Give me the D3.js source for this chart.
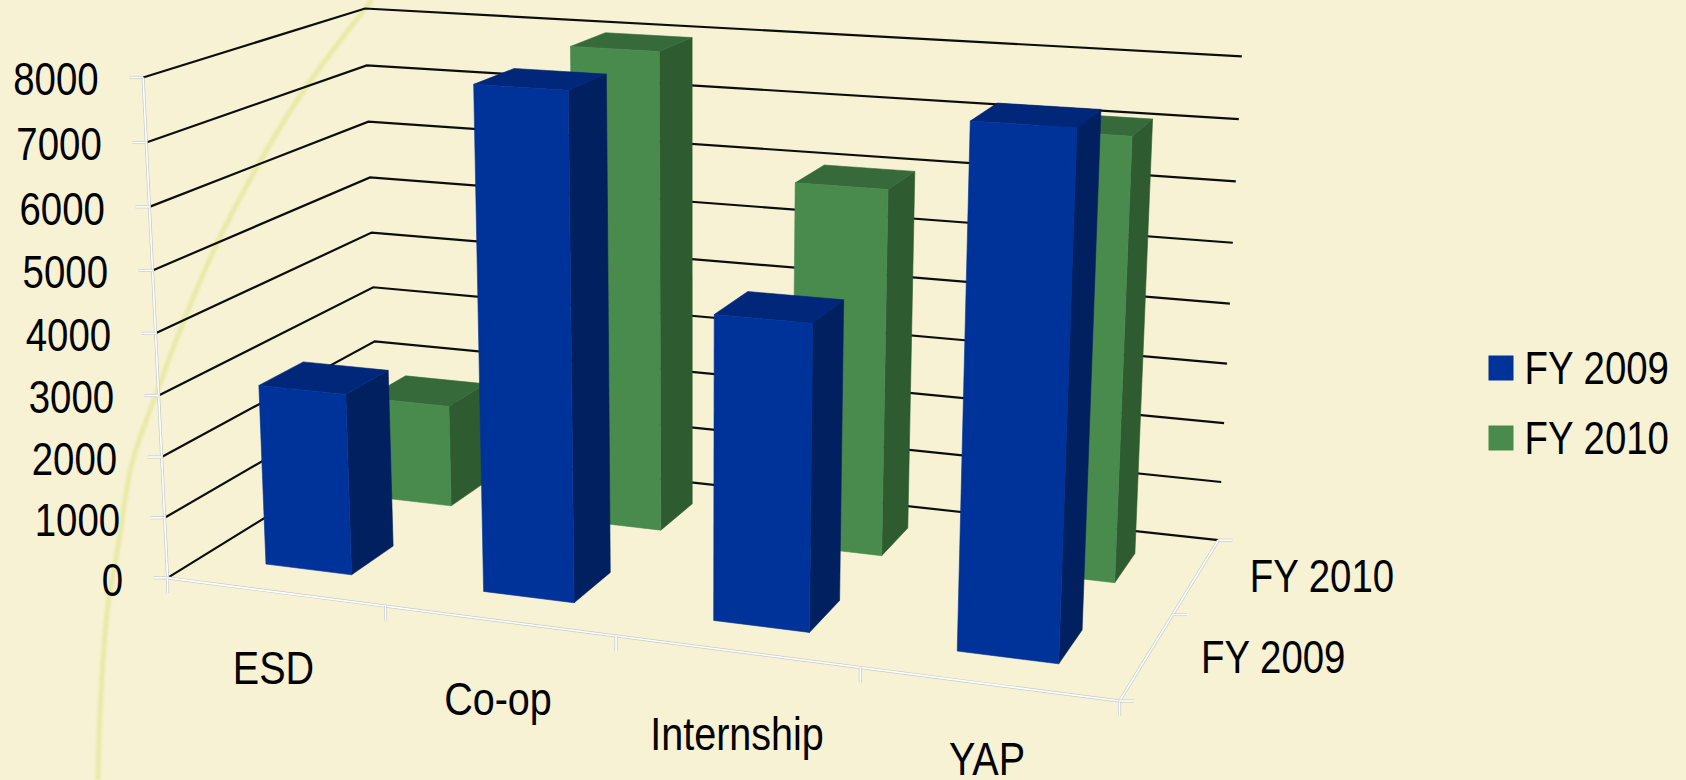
<!DOCTYPE html>
<html><head><meta charset="utf-8">
<style>html,body{margin:0;padding:0;background:#F7F2D3;overflow:hidden}svg{display:block}text{font-family:"Liberation Sans",Arial,sans-serif;fill:#000}</style>
<script src="https://cdn.jsdelivr.net/npm/d3@7"></script>
</head><body><svg id="c" width="1686" height="780"></svg>
<script>
const categories=["ESD","Co-op","Internship","YAP"];
const seriesNames=["FY 2009","FY 2010"];
const fy2009=[2975,8000,4790,7925];
const fy2010=[1760,8000,6035,7127];
const valueTicks=[0,1000,2000,3000,4000,5000,6000,7000,8000];

const colors={
 "FY 2009":{front:"#003399",side:"#002060",top:"#00277A"},
 "FY 2010":{front:"#488B4D",side:"#2E5B30",top:"#376A3A"}
};
// camera calibration: floor fraction u, depth fraction v, value -> page position
const calibration=[[0,0,0,167,578.7],[0,0,1000,165.4,517],[0,0,2000,161.8,457],[0,0,3000,158.2,395.3],[0,0,4000,156,333.5],[0,0,5000,152.9,270],[0,0,6000,149.3,206.7],[0,0,7000,146.4,142.7],[0,0,8000,143,77.3],
[0,1,8000,365,8.3],[0,1,7000,366.4,65.7],[0,1,6000,367.9,121.7],[0,1,5000,370,177.7],[0,1,4000,372,232.3],[0,1,3000,373.2,287],[0,1,2000,375,341.7],
[1,1,8000,1242,56.7],[1,1,7000,1238.8,119],[1,1,6000,1235.9,181.7],[1,1,5000,1233,243],[1,1,4000,1229.7,303.7],[1,1,3000,1226.9,363.3],[1,1,2000,1224,422.7],[1,1,1000,1221.8,481.7],[1,1,0,1217.5,540],
[1,0,0,1119,701],[.25,0,0,385.7,606.7],[.5,0,0,615.4,636.7],[.75,0,0,860,666.7],[1,.5,0,1174,615]];
const wallArc=[[372,0],[304,90],[257,167],[214,250],[179,333],[154,400],[132,463],[118,547],[107,613],[100,713],[98,780]];
const catLabelLayout=[[273.5,684.3],[498,715],[737,750],[987,775]];
const depthLabelLayout=[[1201,673.3],[1249.7,592.3]];

const xBand=d3.scaleBand().domain(categories).range([0,1]).paddingInner(0.6).paddingOuter(0.3);
const xEdge=d3.scaleBand().domain(categories).range([0,1]);
const zBand=d3.scaleBand().domain(seriesNames).range([0,1]).paddingInner(0.6).paddingOuter(0.3);
const zEdge=d3.scaleBand().domain(seriesNames).range([0,1]);
const yScale=d3.scaleLinear().domain([0,8000]).range([0,1]);

function fit(A){const n=11,M=Array.from({length:n},()=>Array(n+1).fill(0));
 const add=(r,b)=>{for(let i=0;i<n;i++){for(let j=0;j<n;j++)M[i][j]+=r[i]*r[j];M[i][n]+=r[i]*b}};
 for(const [u,v,val,x0,y0] of A){const w=yScale(val),x=x0/1000,y=y0/1000;
  add([u,v,w,1,0,0,0,0,-x*u,-x*v,-x*w],x);add([0,0,0,0,u,v,w,1,-y*u,-y*v,-y*w],y)}
 for(let i=0;i<n;i++){let p=i;for(let k=i;k<n;k++)if(Math.abs(M[k][i])>Math.abs(M[p][i]))p=k;[M[i],M[p]]=[M[p],M[i]];
  for(let k=0;k<n;k++)if(k!=i){const f=M[k][i]/M[i][i];for(let j=i;j<=n;j++)M[k][j]-=f*M[i][j]}}
 return M.map((r,i)=>r[n]/r[i])}
const p=fit(calibration);
function P(u,v,val){const w=yScale(val),d=p[8]*u+p[9]*v+p[10]*w+1;
 return[1000*(p[0]*u+p[1]*v+p[2]*w+p[3])/d,1000*(p[4]*u+p[5]*v+p[6]*w+p[7])/d]}

const svg=d3.select("#c");
svg.append("rect").attr("width",1686).attr("height",780).attr("fill","#F7F2D3");
const line=d3.line();
const FS=46;
function label(x,y,s,anchor,sx){
 svg.append("text").attr("transform",`translate(${x},${y}) scale(${sx},1)`)
  .attr("font-size",FS).attr("text-anchor",anchor||"start").text(s)}

// decorative arc behind the chart
svg.append("path").attr("d",d3.line().curve(d3.curveCatmullRom)(wallArc)).attr("fill","none")
 .attr("stroke","#E9E9A9").attr("stroke-width",5).style("filter","blur(0.8px)");

// gridlines on the two walls
svg.append("g").selectAll("path").data(valueTicks).join("path")
 .attr("d",t=>line([P(0,0,t),P(0,1,t),P(1,1,t)]))
 .attr("fill","none").attr("stroke","#0d0d0d").attr("stroke-width",2.2);

// axis lines and ticks
function axisLine(a,b){
 svg.append("path").attr("d",line([a,b])).attr("stroke","#C8C8C8").attr("stroke-width",3).attr("fill","none");
 svg.append("path").attr("d",line([a,b])).attr("stroke","#FFFFFF").attr("stroke-width",1.6).attr("fill","none")}
axisLine(P(0,0,0),P(0,0,8000));
axisLine(P(0,0,0),P(1,0,0));
axisLine(P(1,0,0),P(1,1,0));
valueTicks.forEach(t=>{const q=P(0,0,t);axisLine([q[0]-14,q[1]],q)});
[...categories.map(c=>xEdge(c)),1].forEach(u=>{const q=P(u,0,0);axisLine(q,[q[0],q[1]+15])});
[...seriesNames.map(s=>zEdge(s)),1].forEach(v=>{const q=P(1,v,0);axisLine(q,[q[0]+14,q[1]])});

// bars, back row first
function bar(cat,ser,val){
 const u0=xBand(cat),u1=u0+xBand.bandwidth(),v0=zBand(ser),v1=v0+zBand.bandwidth(),c=colors[ser];
 const face=(pts,f)=>svg.append("path").attr("d",line(pts)+"Z").attr("fill",f).attr("stroke",f).attr("stroke-width",.6).attr("stroke-linejoin","round");
 face([P(u1,v0,0),P(u1,v1,0),P(u1,v1,val),P(u1,v0,val)],c.side);
 face([P(u0,v0,val),P(u1,v0,val),P(u1,v1,val),P(u0,v1,val)],c.top);
 face([P(u0,v0,0),P(u1,v0,0),P(u1,v0,val),P(u0,v0,val)],c.front);
}
categories.forEach((c,i)=>bar(c,"FY 2010",fy2010[i]));
categories.forEach((c,i)=>bar(c,"FY 2009",fy2009[i]));

// labels
valueTicks.forEach(t=>{const q=P(0,0,t);label(q[0]-44.5,q[1]+17.7,String(t),"end",0.835)});
categories.forEach((c,i)=>label(catLabelLayout[i][0],catLabelLayout[i][1],c,"middle",0.86));
seriesNames.forEach((s,i)=>label(depthLabelLayout[i][0],depthLabelLayout[i][1],s,"start",0.835));

// legend
const legendY=d3.scalePoint().domain(seriesNames).range([368,438]);
seriesNames.forEach(s=>{const y=legendY(s);
 svg.append("rect").attr("x",1488.5).attr("y",y-12.5).attr("width",25).attr("height",25).attr("fill",colors[s].front);
 label(1524.5,y+16.2,s,"start",0.835)});
</script></body></html>
